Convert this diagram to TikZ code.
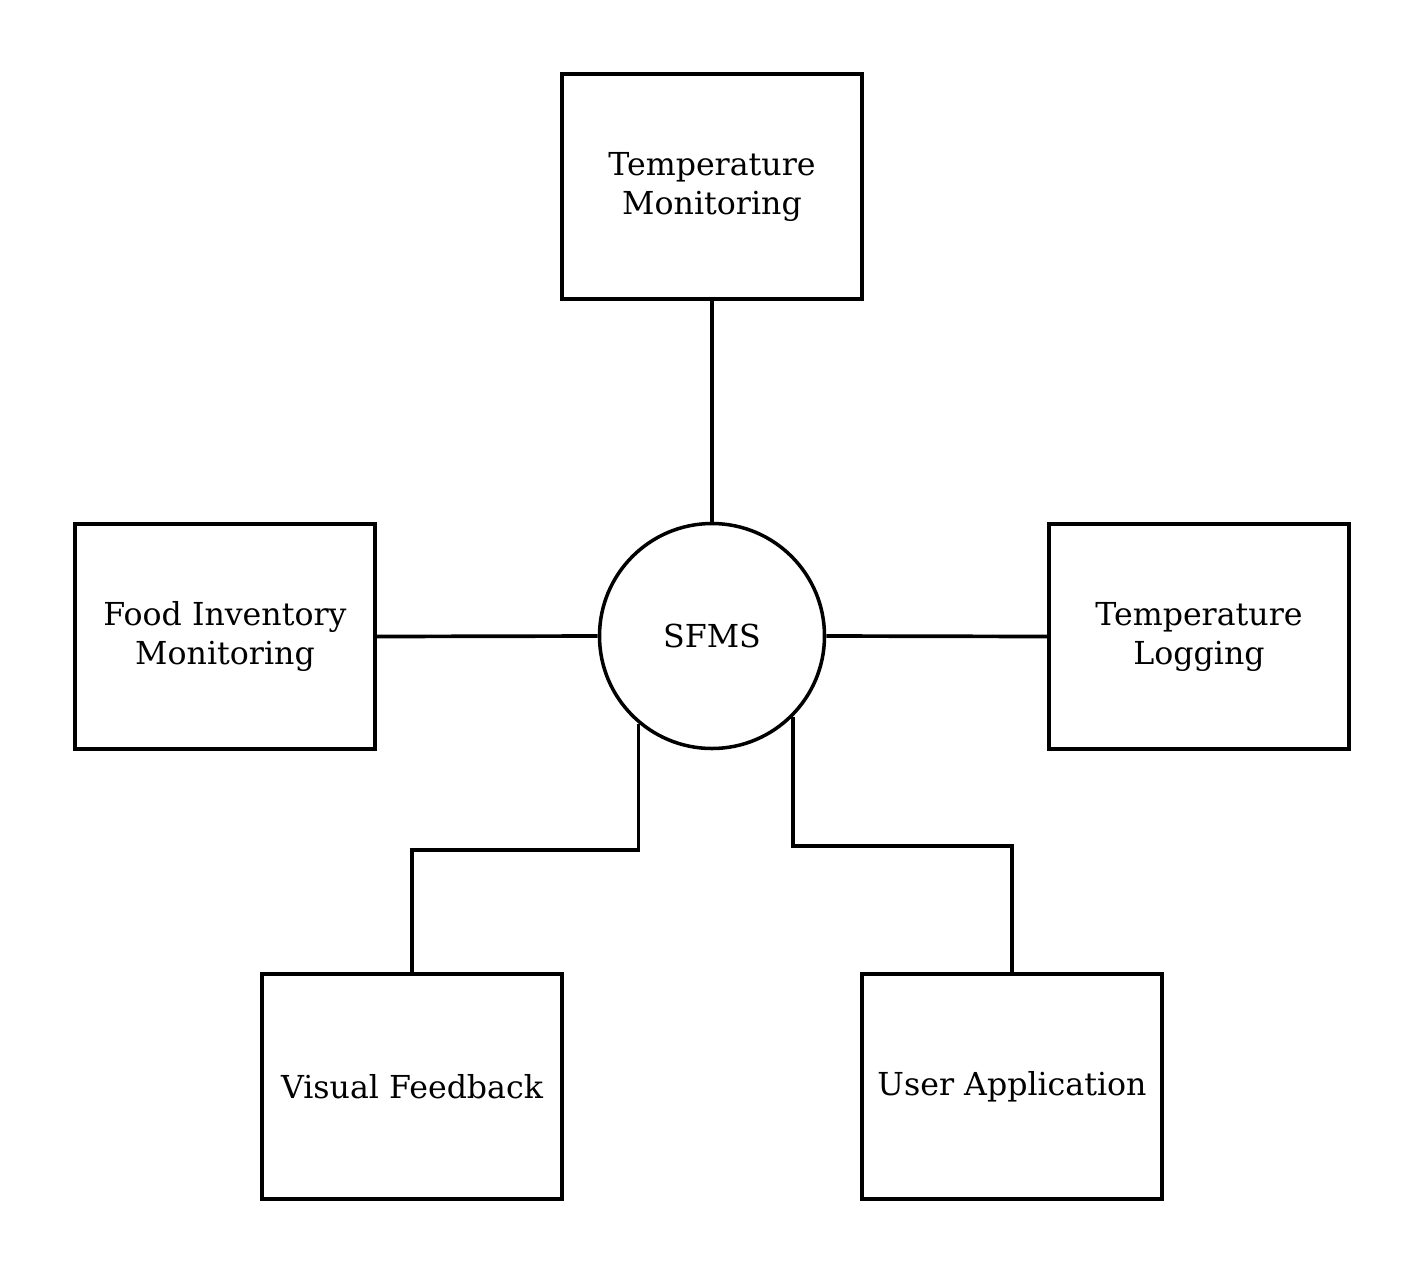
\documentclass[tikz,border=0pt]{standalone}
\usepackage{fontspec}
\setmainfont{DejaVu Serif}
\begin{document}
\begin{tikzpicture}[
    blok/.style={draw, line width=1pt, minimum width=3.0cm, minimum height=2.25cm,
        align=center, inner sep=0pt, font=\fontsize{9}{11.1}\selectfont},
    kern/.style={draw, circle, line width=1pt, minimum size=2.25cm, inner sep=0pt,
        font=\fontsize{9}{11.1}\selectfont},
    lijn/.style={line width=1.05pt}
]
    \useasboundingbox (0,0) rectangle (14.25,-12.75);

    % Centrale node
    \node[kern] (sfms) at (7.12,-6.36) {SFMS};

    % Modules
    \node[blok] (tempmon) at (7.12,-1.865) {Temperature\\Monitoring};
    \node[blok] (food) at (2.25,-6.365) {Food Inventory\\Monitoring};
    \node[blok] (templog) at (11.99,-6.365) {Temperature\\Logging};
    \node[blok] (visual) at (4.12,-10.865) {Visual Feedback};
    \node[blok] (user) at (10.12,-10.865) {User Application};

    % Verbindingen
    \draw[lijn] (tempmon.south) -- (sfms.north);
    \draw[lijn] (food.east) -- (sfms.west);
    \draw[lijn] (templog.west) -- (sfms.east);
    \coordinate (vbuig) at (4.12,-8.50);
    \coordinate (ubuig) at (10.12,-8.46);
    \draw[lijn] (sfms.230) |- (vbuig) -- (visual.north);
    \draw[lijn] (sfms.315.6) |- (ubuig) -- (user.north);
\end{tikzpicture}
\end{document}
